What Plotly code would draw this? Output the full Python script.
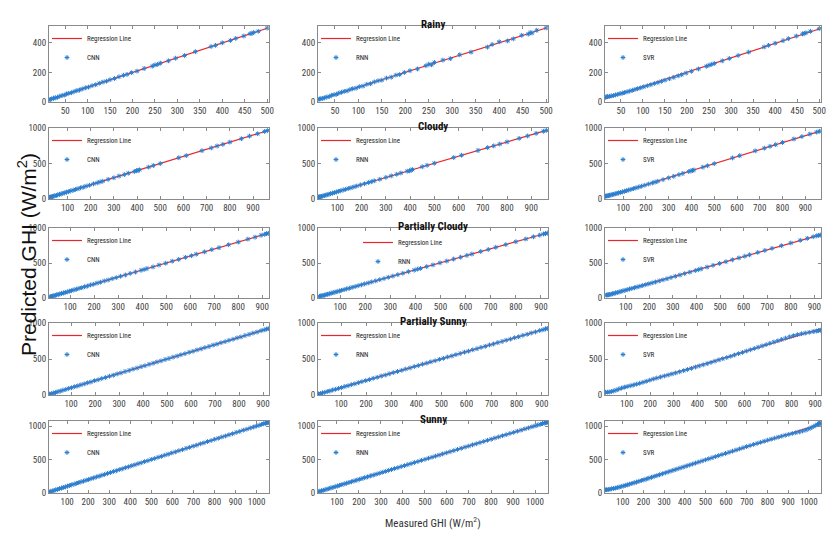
import numpy as np
import plotly.graph_objects as go

# ---------------- data ----------------
CONDITIONS = ["Rainy", "Cloudy", "Partially Cloudy", "Partially Sunny", "Sunny"]
MODELS = ["CNN", "RNN", "SVR"]

# measured GHI per condition (shared by the three models)
meas_rainy = [14, 17, 20, 24, 28, 33, 38, 43, 48, 53, 58, 64, 70, 76, 82, 88, 95, 102, 110, 118,
              126, 134, 142, 150, 160, 170, 180, 188, 198, 210, 226, 244, 250, 256, 262, 280, 296, 316, 340, 375,
              385, 400, 418, 430, 448, 462, 466, 470, 480, 500]
cnn_rainy = [15, 18, 21, 25, 29, 32, 39, 44, 47, 54, 59, 63, 71, 77, 81, 89, 96, 101, 111, 117,
             127, 135, 141, 151, 159, 171, 181, 187, 199, 209, 227, 243, 251, 255, 263, 279, 297, 315, 341, 376,
             384, 401, 417, 431, 447, 463, 465, 471, 479, 501]
rnn_rainy = [18, 20, 22, 25, 28, 34, 37, 45, 49, 52, 60, 66, 72, 75, 84, 90, 94, 104, 108, 120,
             124, 136, 144, 148, 162, 168, 182, 186, 200, 212, 224, 246, 256, 252, 268, 284, 294, 320, 338, 372,
             390, 408, 414, 428, 452, 460, 470, 468, 486, 502]
svr_rainy = [33, 35, 37, 39, 41, 44, 48, 52, 56, 60, 64, 69, 74, 79, 85, 90, 96, 103, 110, 117,
             125, 132, 140, 148, 157, 167, 177, 185, 196, 208, 224, 242, 249, 255, 261, 279, 295, 315, 338, 373,
             384, 398, 416, 429, 447, 461, 465, 469, 479, 497]

meas_cloudy = [22, 26, 30, 35, 40, 46, 52, 58, 65, 72, 80, 88, 96, 105, 114, 124, 134, 145, 156, 168,
               180, 195, 212, 228, 240, 252, 275, 300, 322, 345, 362, 388, 398, 404, 410, 450, 470, 500, 580, 612,
               680, 720, 745, 770, 800, 850, 885, 920, 950, 962]
cnn_cloudy = [24, 27, 31, 34, 41, 47, 51, 59, 66, 71, 81, 87, 97, 104, 115, 123, 135, 144, 157, 167,
              181, 194, 213, 227, 241, 251, 276, 299, 323, 344, 363, 387, 399, 403, 411, 449, 471, 499, 581, 611,
              681, 719, 746, 769, 801, 849, 886, 919, 951, 963]
rnn_cloudy = [28, 30, 33, 37, 42, 48, 55, 60, 67, 75, 82, 90, 99, 108, 116, 127, 136, 148, 158, 170,
              183, 198, 215, 232, 243, 256, 278, 304, 326, 348, 366, 392, 396, 408, 414, 454, 474, 504, 584, 616,
              684, 724, 748, 774, 804, 854, 888, 924, 954, 966]
svr_cloudy = [40, 42, 45, 48, 52, 57, 62, 67, 73, 79, 86, 93, 100, 108, 117, 126, 136, 146, 157, 168,
              180, 194, 211, 226, 238, 250, 273, 298, 320, 343, 360, 386, 396, 402, 408, 448, 468, 498, 578, 610,
              678, 716, 742, 766, 796, 845, 880, 914, 942, 955]

meas_pcloudy = [18, 22, 27, 32, 38, 44, 50, 57, 64, 72, 80, 88, 97, 106, 116, 126, 137, 148, 160, 172,
                185, 198, 212, 226, 242, 258, 275, 292, 310, 330, 350, 372, 395, 408, 420, 445, 470, 498, 525, 552,
                580, 605, 625, 660, 690, 720, 760, 800, 840, 870, 895, 910, 918, 925]
cnn_pcloudy = [19, 23, 26, 33, 37, 45, 51, 56, 65, 71, 81, 87, 98, 105, 117, 125, 138, 147, 161, 171,
               186, 197, 213, 225, 243, 257, 276, 291, 311, 329, 351, 371, 396, 407, 421, 444, 471, 497, 526, 551,
               581, 604, 626, 659, 691, 719, 761, 799, 841, 869, 896, 909, 919, 924]
rnn_pcloudy = [24, 27, 31, 36, 41, 48, 54, 60, 68, 75, 84, 92, 100, 110, 119, 130, 140, 152, 163, 176,
               188, 202, 215, 230, 245, 262, 278, 296, 313, 334, 353, 376, 398, 412, 423, 449, 473, 502, 528, 556,
               583, 609, 628, 664, 693, 724, 763, 804, 843, 874, 898, 914, 920, 928]
svr_pcloudy = [42, 44, 47, 50, 55, 60, 66, 72, 79, 86, 94, 102, 110, 119, 128, 137, 147, 157, 168, 179,
               191, 203, 216, 229, 244, 259, 275, 292, 310, 329, 349, 370, 392, 405, 417, 441, 466, 493, 519, 546,
               573, 597, 617, 651, 680, 709, 747, 786, 824, 852, 875, 888, 894, 900]

meas_psunny = [10, 18, 26, 35, 45, 55, 66, 78, 90, 102, 115, 128, 141, 155, 169, 183, 198, 213, 228, 244,
               260, 276, 292, 308, 325, 342, 358, 375, 392, 408, 425, 442, 458, 475, 492, 508, 525, 542, 558, 575,
               592, 608, 625, 642, 658, 675, 692, 708, 725, 742, 758, 775, 792, 808, 825, 842, 858, 875, 892, 905,
               915, 922]
cnn_psunny = [12, 19, 27, 34, 46, 54, 67, 77, 91, 101, 116, 127, 142, 154, 170, 182, 199, 212, 229, 243,
              261, 275, 293, 307, 326, 341, 359, 374, 393, 407, 426, 441, 459, 474, 493, 507, 526, 541, 559, 574,
              593, 607, 626, 641, 659, 674, 693, 707, 726, 741, 759, 774, 793, 807, 826, 841, 859, 874, 893, 904,
              916, 921]
rnn_psunny = [15, 20, 29, 36, 48, 56, 69, 79, 92, 103, 118, 129, 144, 156, 171, 186, 200, 214, 231, 245,
              263, 277, 294, 311, 327, 343, 361, 376, 395, 409, 428, 443, 461, 476, 495, 509, 528, 543, 561, 576,
              595, 609, 628, 643, 661, 676, 695, 709, 728, 743, 761, 776, 795, 809, 828, 843, 861, 876, 895, 906,
              918, 925]
svr_psunny = [38, 40, 42, 48, 56, 68, 82, 96, 108, 118, 128, 138, 150, 162, 176, 190, 206, 222, 236, 250,
              264, 278, 292, 306, 322, 338, 354, 370, 388, 404, 420, 436, 452, 470, 488, 504, 520, 538, 556, 574,
              592, 610, 628, 646, 664, 682, 700, 718, 736, 754, 772, 790, 808, 824, 838, 850, 860, 870, 880, 888,
              894, 900]

meas_sunny = [15, 22, 30, 38, 46, 55, 64, 73, 82, 92, 102, 112, 122, 133, 144, 155, 166, 178, 190, 202,
              214, 226, 239, 252, 265, 278, 292, 306, 320, 334, 348, 362, 377, 392, 407, 422, 437, 452, 468, 484,
              500, 516, 532, 548, 564, 580, 597, 614, 631, 648, 665, 682, 699, 716, 733, 750, 767, 784, 801, 818,
              835, 852, 869, 886, 903, 920, 937, 954, 970, 986, 1000, 1012, 1024, 1034, 1042, 1048, 1052, 1055]
cnn_sunny = [16, 21, 31, 37, 47, 54, 65, 72, 83, 91, 103, 111, 123, 132, 145, 154, 167, 177, 191, 201,
             215, 225, 240, 251, 266, 277, 293, 305, 321, 333, 349, 361, 378, 391, 408, 421, 438, 451, 469, 483,
             501, 515, 533, 547, 565, 579, 598, 613, 632, 647, 666, 681, 700, 715, 734, 749, 768, 783, 802, 817,
             836, 851, 870, 885, 904, 919, 938, 953, 971, 985, 1001, 1011, 1025, 1033, 1043, 1047, 1053, 1054]
rnn_sunny = [19, 25, 32, 41, 48, 58, 66, 76, 84, 95, 104, 115, 124, 136, 146, 158, 168, 181, 192, 205,
             216, 229, 241, 255, 267, 281, 294, 309, 322, 337, 350, 365, 379, 395, 409, 425, 439, 455, 470, 487,
             502, 519, 534, 551, 566, 583, 599, 617, 633, 651, 667, 685, 701, 719, 735, 753, 769, 787, 803, 821,
             837, 855, 871, 889, 905, 923, 939, 957, 972, 989, 1002, 1015, 1026, 1037, 1044, 1051, 1054, 1058]
svr_sunny = [48, 50, 53, 57, 62, 68, 74, 80, 88, 96, 104, 113, 122, 132, 142, 152, 162, 174, 186, 197,
             209, 221, 234, 247, 260, 273, 287, 301, 315, 329, 343, 357, 372, 387, 402, 417, 432, 447, 463, 479,
             495, 511, 527, 543, 559, 575, 591, 608, 625, 642, 659, 676, 693, 709, 725, 741, 757, 773, 789, 804,
             819, 834, 848, 862, 875, 888, 900, 912, 925, 940, 958, 975, 993, 1010, 1024, 1034, 1040, 1045]

MEASURED = [meas_rainy, meas_cloudy, meas_pcloudy, meas_psunny, meas_sunny]
PREDICTED = [
    [cnn_rainy, rnn_rainy, svr_rainy],
    [cnn_cloudy, rnn_cloudy, svr_cloudy],
    [cnn_pcloudy, rnn_pcloudy, svr_pcloudy],
    [cnn_psunny, rnn_psunny, svr_psunny],
    [cnn_sunny, rnn_sunny, svr_sunny],
]

# axis ticks and ranges per condition
X_TICKS = [[50, 100, 150, 200, 250, 300, 350, 400, 450, 500],
           [100, 200, 300, 400, 500, 600, 700, 800, 900],
           [100, 200, 300, 400, 500, 600, 700, 800, 900],
           [100, 200, 300, 400, 500, 600, 700, 800, 900],
           [100, 200, 300, 400, 500, 600, 700, 800, 900, 1000]]
Y_TICKS = [[0, 200, 400], [0, 500, 1000], [0, 500, 1000], [0, 500, 1000], [0, 500, 1000]]
X_RANGES = [[14, 504], [20, 969], [12, 928], [8, 925], [14, 1059]]
Y_RANGES = [[0, 515], [0, 1000], [0, 1000], [0, 1000], [0, 1075]]

# ---------------- layout geometry (pixels in the 838x538 window) ----------------
OFF = 8                      # page body margin in the browser
W, H = 838 - 2 * OFF, 538 - 2 * OFF
ROWS_PX = [(26, 102), (128, 199), (228, 298), (323, 395), (421, 493)]
COLS_PX = [(49, 269), (318, 548), (605, 821)]


def fx(px):
    return (px - OFF) / W


def fy(py):
    return 1 - (py - OFF) / H


BLUE = "#2b7fd0"
RED = "#e8262b"
AXC = "#8a8a8a"
NARROW = "Liberation Sans Narrow, Roboto Condensed, DejaVu Sans Condensed, Arial Narrow, sans-serif"

fig = go.Figure()
layout = {}
k = 0
for r in range(5):
    for c in range(3):
        k += 1
        xa = "x" if k == 1 else f"x{k}"
        ya = "y" if k == 1 else f"y{k}"
        leg = "legend" if k == 1 else f"legend{k}"
        x0, x1 = COLS_PX[c]
        t, b = ROWS_PX[r]
        xd = [fx(x0), fx(x1)]
        yd = [fy(b), fy(t)]

        mx = np.array(MEASURED[r], dtype=float)
        py = np.array(PREDICTED[r][c], dtype=float)
        coef = np.polyfit(mx, py, 1)
        lx = np.array([mx.min(), mx.max()])
        ly = np.polyval(coef, lx)

        fig.add_trace(go.Scatter(x=lx, y=ly, mode="lines", name="Regression Line",
                                 line=dict(color=RED, width=1.2), xaxis=xa, yaxis=ya, legend=leg))
        fig.add_trace(go.Scatter(x=mx, y=py, mode="markers", name=MODELS[c],
                                 marker=dict(symbol="asterisk-open", size=4, color=BLUE,
                                             line=dict(color=BLUE, width=1)),
                                 xaxis=xa, yaxis=ya, legend=leg))

        axcommon = dict(showline=True, linecolor=AXC, linewidth=1, mirror="ticks",
                        ticks="inside", ticklen=3, tickcolor=AXC, showgrid=False, zeroline=False,
                        tickangle=0, automargin=False,
                        tickfont=dict(family=NARROW, size=9, color="#404040"))
        layout["xaxis" if k == 1 else f"xaxis{k}"] = dict(
            domain=xd, anchor=ya, range=X_RANGES[r], tickvals=X_TICKS[r], **axcommon)
        layout["yaxis" if k == 1 else f"yaxis{k}"] = dict(
            domain=yd, anchor=xa, range=Y_RANGES[r], tickvals=Y_TICKS[r], **axcommon)

        lgx = fx(x0 - 2)
        lgy = fy(t - 2)
        if r == 2 and c == 1:
            lgx = fx(358)
            lgy = fy(228)
        layout[leg] = dict(x=lgx, y=lgy, xanchor="left", yanchor="top",
                           bgcolor="rgba(0,0,0,0)", borderwidth=0, tracegroupgap=0,
                           itemwidth=30, font=dict(family=NARROW, size=7, color="#222"))

annotations = []
for r, name in enumerate(CONDITIONS):
    t, b = ROWS_PX[r]
    annotations.append(dict(text=f"<b>{name}</b>", x=fx(433), y=fy(t - 1.5),
                            xref="paper", yref="paper", xanchor="center", yanchor="middle",
                            showarrow=False, font=dict(family=NARROW, size=11, color="#111")))
annotations.append(dict(text="Measured GHI (W/m<sup>2</sup>)", x=fx(433), y=fy(522),
                        xref="paper", yref="paper", xanchor="center", yanchor="middle",
                        showarrow=False, font=dict(family=NARROW, size=11, color="#333")))
annotations.append(dict(text="Predicted GHI (W/m<sup>2</sup>)", x=fx(27), y=fy(255),
                        xref="paper", yref="paper", xanchor="center", yanchor="middle",
                        textangle=-90, showarrow=False,
                        font=dict(family="Liberation Sans, Arial, sans-serif", size=21, color="#111")))

fig.update_layout(width=W, height=H, margin=dict(l=0, r=0, t=0, b=0, autoexpand=False),
                  paper_bgcolor="white", plot_bgcolor="white", showlegend=True,
                  annotations=annotations, **layout)
fig.write_html("out.html")
